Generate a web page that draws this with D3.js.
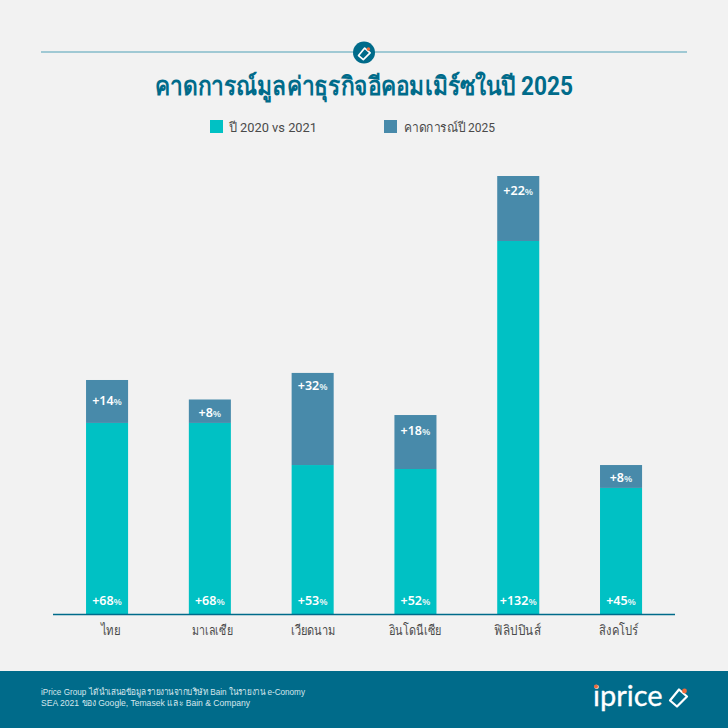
<!DOCTYPE html>
<html><head><meta charset="utf-8">
<script src="https://d3js.org/d3.v7.min.js"></script>
<style>html,body{margin:0;padding:0;background:#f2f2f2}svg{display:block}text{font-family:Roboto,"Noto Sans",sans-serif}</style>
</head><body><svg id="c" width="728" height="728"></svg>
<script>
const categories=["ไทย","มาเลเซีย","เวียดนาม","อินโดนีเซีย","ฟิลิปปินส์","สิงคโปร์"];
const series2021=[67.8,67.8,52.9,51.5,132.2,44.8];
const forecast2025=[15.2,8.3,32.6,19.1,23,8.1];
const labels2021=["+68","+68","+53","+52","+132","+45"];
const labels2025=["+14","+8","+32","+18","+22","+8"];
const legendLabels=["ปี 2020 vs 2021","คาดการณ์ปี 2025"];
const titleText="คาดการณ์มูลค่าธุรกิจอีคอมเมิร์ซในปี 2025";
const noteLines=["iPrice Group ได้นำเสนอข้อมูลรายงานจากบริษัท Bain ในรายงาน e-Conomy","SEA 2021 ของ Google, Temasek และ Bain & Company"];
const C={teal:"#00c1c4",blue:"#488aaa",dark:"#006b8a",line:"#4f9fb5",text:"#4a4a4a"};
// layout tweaks, not data
const labelDrop=[21,13,13,15,14,12];
const tickWidth=[19.5,41,45,53,47,40];
const tickShift=[3.5,2.5,0.4,-0.4,-0.3,-2.3];
const noteWidth=[264,209];
const tagPath="M-8,3 L1,-8 L9,-1 L-1,9 Z";

const svg=d3.select("#c");
svg.append("rect").attr("width",728).attr("height",728).attr("fill","#f2f2f2");
svg.append("line").attr("x1",41).attr("x2",687).attr("y1",52).attr("y2",52).attr("stroke",C.line).attr("stroke-width",1.2);
function tag(g,s,sw,r){
  g.append("path").attr("d",tagPath).attr("transform",`scale(${s})`).attr("fill","none")
   .attr("stroke","#fff").attr("stroke-width",sw/s).attr("stroke-linejoin","round");
  g.append("circle").attr("cx",6.5*s).attr("cy",-6.5*s).attr("r",r).attr("fill","#ef6a3a");
}
const badge=svg.append("g").attr("transform","translate(364,52.5)");
badge.append("circle").attr("r",11).attr("fill",C.dark);
tag(badge.append("g").attr("transform","translate(0,1)"),0.68,1.7,1.8);
svg.append("text").attr("x",155).attr("y",95).attr("font-size",25.5).attr("font-weight",700).attr("fill",C.dark)
  .attr("textLength",418).attr("lengthAdjust","spacingAndGlyphs").text(titleText);
[[210,229,C.teal,88],[384,404,C.blue,91]].forEach((d,i)=>{
  svg.append("rect").attr("x",d[0]).attr("y",120).attr("width",13).attr("height",13).attr("fill",d[2]);
  svg.append("text").attr("x",d[1]).attr("y",132).attr("font-size",13).attr("fill",C.text)
    .attr("textLength",d[3]).attr("lengthAdjust","spacingAndGlyphs").text(legendLabels[i]);
});
const x=d3.scaleBand().domain(categories).range([55.2,672.9]).paddingInner(0.591).paddingOuter(0.3);
const y=d3.scaleLinear().domain([0,155.2]).range([614.5,176]);
const g=svg.append("g");
g.selectAll("rect.a").data(categories).join("rect").attr("class","a")
 .attr("x",d=>x(d)).attr("width",x.bandwidth())
 .attr("y",(d,i)=>y(series2021[i])).attr("height",(d,i)=>y(0)-y(series2021[i])).attr("fill",C.teal);
g.selectAll("rect.b").data(categories).join("rect").attr("class","b")
 .attr("x",d=>x(d)).attr("width",x.bandwidth())
 .attr("y",(d,i)=>y(series2021[i]+forecast2025[i])).attr("height",(d,i)=>y(series2021[i])-y(series2021[i]+forecast2025[i])).attr("fill",C.blue);
function pct(sel,txt){
  sel.attr("text-anchor","middle").attr("fill","#fff").attr("font-size",12.5).attr("font-weight",600).style("font-family",'"Noto Sans",sans-serif');
  sel.append("tspan").text(txt);
  sel.append("tspan").attr("font-size",9.5).attr("fill","#e4f4f6").text("%");
}
categories.forEach((c,i)=>{
  const cx=x(c)+x.bandwidth()/2;
  pct(g.append("text").attr("x",cx).attr("y",605),labels2021[i]);
  pct(g.append("text").attr("x",cx).attr("y",y(series2021[i]+forecast2025[i])+labelDrop[i]+4.5),labels2025[i]);
});
const axis=svg.append("g").attr("transform","translate(0,614.5)").call(d3.axisBottom(x).tickSize(0).tickPadding(10));
axis.select(".domain").attr("d","M53,0H675").attr("stroke",C.dark).attr("stroke-width",1.5);
axis.selectAll("text").attr("font-size",14).attr("fill",C.text).attr("y",11)
  .attr("dx",(d,i)=>tickShift[i]).attr("textLength",(d,i)=>tickWidth[i]).attr("lengthAdjust","spacingAndGlyphs");
svg.append("rect").attr("y",671).attr("width",728).attr("height",57).attr("fill",C.dark);
noteLines.forEach((t,i)=>svg.append("text").attr("x",41).attr("y",694.5+i*11.7).attr("font-size",9).attr("fill","#d5e6ec")
  .style("font-family",'"Liberation Sans",sans-serif')
  .attr("textLength",noteWidth[i]).attr("lengthAdjust","spacingAndGlyphs").text(t));
svg.append("text").attr("x",593).attr("y",706).attr("font-size",29).attr("fill","#fff").attr("stroke","#fff").attr("stroke-width",0.3).style("font-family","Lato").text("iprice");
svg.append("circle").attr("cx",596).attr("cy",686.5).attr("r",2).attr("fill","#ef6a3a");
tag(svg.append("g").attr("transform","translate(678,697.5)"),1,2.2,2.4);
</script></body></html>
